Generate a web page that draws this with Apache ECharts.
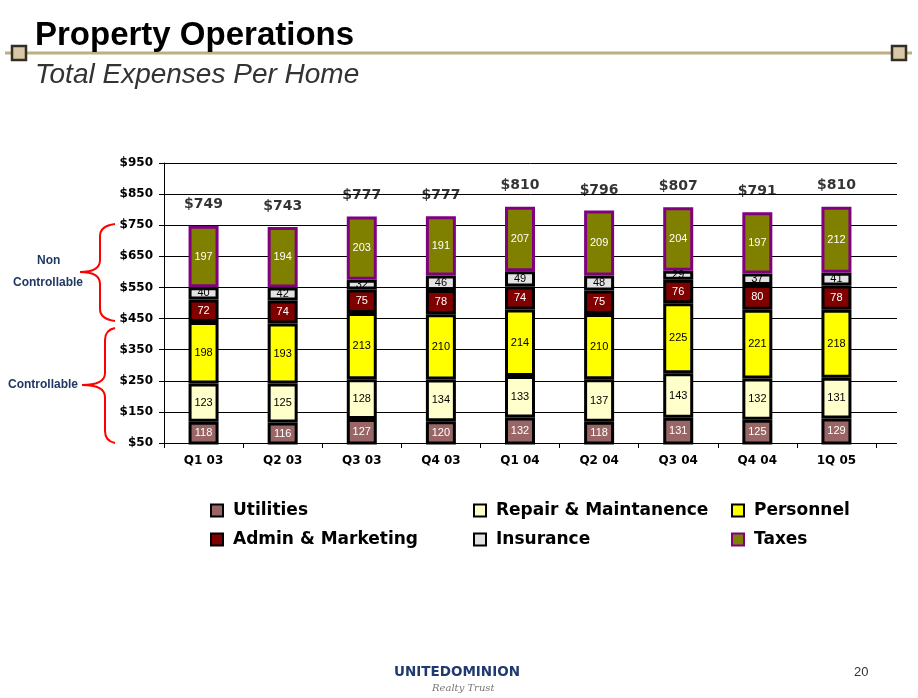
<!DOCTYPE html>
<html>
<head>
<meta charset="utf-8">
<script src="https://cdn.jsdelivr.net/npm/echarts@6/dist/echarts.min.js"></script>
<style>
html,body{margin:0;padding:0;background:#fff;}
#chart{width:918px;height:698px;}
</style>
</head>
<body>
<div id="chart"></div>
<script>
// ---- data ----
const categories = ['Q1 03','Q2 03','Q3 03','Q4 03','Q1 04','Q2 04','Q3 04','Q4 04','1Q 05'];
const utilities  = [118,116,127,120,132,118,131,125,129];
const repair     = [123,125,128,134,133,137,143,132,131];
const personnel  = [198,193,213,210,214,210,225,221,218];
const admin      = [72,74,75,78,74,75,76,80,78];
const insurance  = [40,42,32,46,49,48,29,37,41];
const taxes      = [197,194,203,191,207,209,204,197,212];
const totals     = [749,743,777,777,810,796,807,791,810];
const yMin = 50, yMax = 950, yStep = 100;

// ---- chart ----
const chart = echarts.init(document.getElementById('chart'), null, {renderer:'canvas'});
const AR = '"Liberation Sans", Arial, sans-serif';
const DV = '"DejaVu Sans", sans-serif';

function seg(name, data, color, labelColor, border) {
  return {
    name: name, type: 'bar', stack: 'total', data: data,
    xAxisIndex: 0, yAxisIndex: 0, barWidth: 30, clip: true,
    itemStyle: {color: color, borderColor: border || '#000', borderWidth: 3},
    label: {show: true, position: 'inside', color: labelColor, fontFamily: AR, fontSize: 11},
    emphasis: {disabled: true}
  };
}

// brace decoration: top end, tip, bottom end
function brace(xEnd, xSpine, yTop, yTip, xTip, yBot) {
  const st = {stroke: '#FF0000', lineWidth: 2, fill: null};
  const r = 12;
  return [
    {type: 'bezierCurve', shape: {x1: xEnd, y1: yTop, x2: xSpine, y2: yTop + r, cpx1: xSpine, cpy1: yTop + 2}, style: st},
    {type: 'line', shape: {x1: xSpine, y1: yTop + r, x2: xSpine, y2: yTip - r}, style: st},
    {type: 'bezierCurve', shape: {x1: xSpine, y1: yTip - r, x2: xTip, y2: yTip, cpx1: xSpine, cpy1: yTip}, style: st},
    {type: 'bezierCurve', shape: {x1: xTip, y1: yTip, x2: xSpine, y2: yTip + r, cpx1: xSpine, cpy1: yTip}, style: st},
    {type: 'line', shape: {x1: xSpine, y1: yTip + r, x2: xSpine, y2: yBot - r}, style: st},
    {type: 'bezierCurve', shape: {x1: xSpine, y1: yBot - r, x2: xEnd, y2: yBot, cpx1: xSpine, cpy1: yBot - 2}, style: st}
  ];
}

const legendBase = {
  orient: 'vertical', top: 502, padding: 0, itemWidth: 12, itemHeight: 12, itemGap: 12,
  icon: 'rect', selectedMode: false,
  itemStyle: {borderWidth: 2},
  textStyle: {fontFamily: DV, fontWeight: 'bold', fontSize: 17, color: '#000', lineHeight: 17, padding: [0,0,0,5]}
};

const option = {
  animation: false,
  backgroundColor: '#fff',
  title: [
    {text: 'Property Operations', left: 35, top: 19, padding: 0,
     textStyle: {fontFamily: AR, fontWeight: 'bold', fontSize: 33, color: '#000'}},
    {text: 'Total Expenses Per Home', left: 35, top: 61, padding: 0,
     textStyle: {fontFamily: AR, fontStyle: 'italic', fontWeight: 'normal', fontSize: 28, color: '#333'}}
  ],
  legend: [
    Object.assign({}, legendBase, {left: 210, data: ['Utilities','Admin & Marketing']}),
    Object.assign({}, legendBase, {left: 473, data: ['Repair & Maintanence','Insurance']}),
    Object.assign({}, legendBase, {left: 731, data: ['Personnel','Taxes']})
  ],
  grid: [
    {left: 164, right: 42, top: 163, bottom: 255},
    {left: 164, right: 21, top: 163, bottom: 255}
  ],
  xAxis: [
    {type: 'category', data: categories, gridIndex: 0,
     axisLine: {lineStyle: {color: '#000', width: 1}},
     axisTick: {show: true, length: 5, lineStyle: {color: '#000'}},
     axisLabel: {fontFamily: DV, fontWeight: 'bold', fontSize: 12, color: '#000', margin: 12}},
    {type: 'value', gridIndex: 1, show: false, min: 0, max: 1}
  ],
  yAxis: [
    {type: 'value', gridIndex: 0, min: yMin, max: yMax, interval: yStep,
     axisLine: {show: true, lineStyle: {color: '#000', width: 1}},
     axisTick: {show: true, length: 5, lineStyle: {color: '#000'}},
     splitLine: {show: false},
     axisLabel: {fontFamily: DV, fontWeight: 'bold', fontSize: 12, color: '#000', margin: 11,
                 formatter: v => '$' + v}},
    {type: 'value', gridIndex: 1, min: yMin, max: yMax, interval: yStep, z: 0,
     axisLine: {show: false}, axisTick: {show: false}, axisLabel: {show: false},
     splitLine: {show: true, lineStyle: {color: '#000', width: 1}}}
  ],
  series: [
    seg('Utilities', utilities, '#996666', '#fff'),
    seg('Repair & Maintanence', repair, '#FFFFCC', '#000'),
    seg('Personnel', personnel, '#FFFF00', '#000'),
    seg('Admin & Marketing', admin, '#800000', '#fff'),
    seg('Insurance', insurance, '#E3E3E3', '#000'),
    seg('Taxes', taxes, '#808000', '#fff', '#800080'),
    {name: 'Total', type: 'scatter', data: totals, xAxisIndex: 0, yAxisIndex: 0,
     symbolSize: 2, itemStyle: {color: 'rgba(0,0,0,0)'}, z: 10, silent: true,
     label: {show: true, position: 'top', distance: 13, color: '#000',
             fontFamily: DV, fontWeight: 'bold', fontSize: 14, formatter: p => '$' + p.value}}
  ],
  graphic: [
    {type: 'line', shape: {x1: 5, y1: 53, x2: 912, y2: 53}, style: {stroke: '#BFAE82', lineWidth: 3}, z: 1},
    {type: 'rect', shape: {x: 12, y: 46, width: 14, height: 14}, style: {fill: '#D9C8A5', stroke: '#332F22', lineWidth: 2.5}, z: 2},
    {type: 'rect', shape: {x: 892, y: 46, width: 14, height: 14}, style: {fill: '#D9C8A5', stroke: '#332F22', lineWidth: 2.5}, z: 2}
  ].concat(
    brace(115, 100, 224, 272, 80, 321),
    brace(115, 105, 328, 385, 82, 443),
    [
      {type: 'text', left: 37, top: 255, style: {text: 'Non', fill: '#1F3864', font: 'bold 12px ' + AR}},
      {type: 'text', left: 13, top: 277, style: {text: 'Controllable', fill: '#1F3864', font: 'bold 12px ' + AR}},
      {type: 'text', left: 8, top: 379, style: {text: 'Controllable', fill: '#1F3864', font: 'bold 12px ' + AR}},
      {type: 'text', left: 394, top: 665, style: {text: 'UNITEDOMINION', fill: '#1F3A6E', font: 'bold 13.5px ' + DV}},
      {type: 'text', left: 432, top: 683, style: {text: 'Realty Trust', fill: '#777', font: 'italic 10px "DejaVu Serif", serif'}},
      {type: 'text', left: 854, top: 666, style: {text: '20', fill: '#333', font: '13px ' + AR}}
    ]
  )
};
chart.setOption(option);
</script>
</body>
</html>
